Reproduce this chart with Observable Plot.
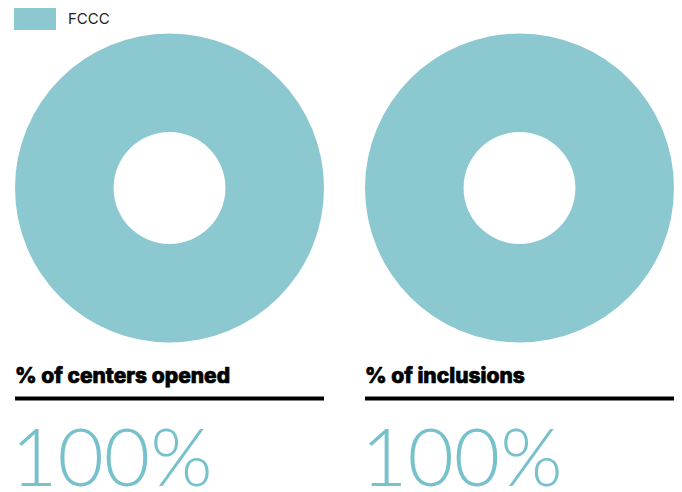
<!DOCTYPE html>
<html><head><meta charset="utf-8">
<script src="https://cdn.jsdelivr.net/npm/d3@7"></script>
<script src="https://cdn.jsdelivr.net/npm/@observablehq/plot@0.6"></script>
<style>
body{margin:0;background:#fff;}
#chart{position:relative;width:682px;height:492px;overflow:hidden}
#legend{position:absolute;left:14px;top:2px}
#legend, #legend *{font-family:Inter,sans-serif !important;font-size:15px !important;color:#222 !important}
#legend svg{margin-right:12px !important}
</style></head><body><div id="chart"><div id="legend"></div></div>
<script>
const categories = ["% of centers opened", "% of inclusions"];
const series = ["FCCC"];
const values = [100, 100];
const valueLabels = ["100%", "100%"];
const seriesColors = ["#8cc8d0"];

const data = categories.map((c, i) => ({category: c, value: values[i], label: valueLabels[i], series: series[0]}));

const W = 682, H = 492;
const donutCY = 188, innerRatio = 0.362;

function donutMark(index, scales) {
  const x = scales.x;
  const bw = typeof x.bandwidth === "function" ? x.bandwidth() : scales.scales.x.bandwidth;
  const R = bw / 2;
  const arc = d3.arc().innerRadius(R * innerRatio).outerRadius(R);
  const g = d3.create("svg:g");
  data.forEach(d => {
    const pie = d3.pie().sort(null)([d.value, 100 - d.value]);
    const cx = x(d.category) + bw / 2, cy = scales.y(donutCY);
    g.append("path")
      .attr("transform", `translate(${cx},${cy})`)
      .attr("d", arc(pie[0]))
      .attr("fill", scales.color(d.series));
  });
  return g.node();
}

const plot = Plot.plot({
  width: W, height: H,
  margin: 0,
  style: {background: "#fff", overflow: "visible"},
  x: {type: "band", domain: categories, range: [14, 675], paddingInner: 0.1168, paddingOuter: 0, axis: null},
  y: {domain: [0, H], range: [0, H], axis: null},
  color: {domain: series, range: seriesColors},
  marks: [
    donutMark,
    Plot.tickY(data, {x: "category", y: () => 398, stroke: "#000", strokeWidth: 4}),
    Plot.text(data, {x: "category", y: () => 382, text: "category", textAnchor: "start", lineAnchor: "bottom", dx: -155,
      fontSize: 21, fontWeight: 800, fontFamily: "Inter", fill: "#000", stroke: "#000", strokeWidth: 0.7,
      style: "letter-spacing:-0.9px"}),
    Plot.text(data, {x: "category", y: () => 485, text: "label", textAnchor: "start", lineAnchor: "bottom", dx: -159,
      fontSize: 80, fontWeight: 300, fontFamily: "Lato", fill: "#77c1cc", style: "letter-spacing:-2px"})
  ]
});
document.getElementById("chart").prepend(plot);
const leg = plot.legend("color", {swatchWidth: 42, swatchHeight: 22});
document.getElementById("legend").appendChild(leg);
</script></body></html>
